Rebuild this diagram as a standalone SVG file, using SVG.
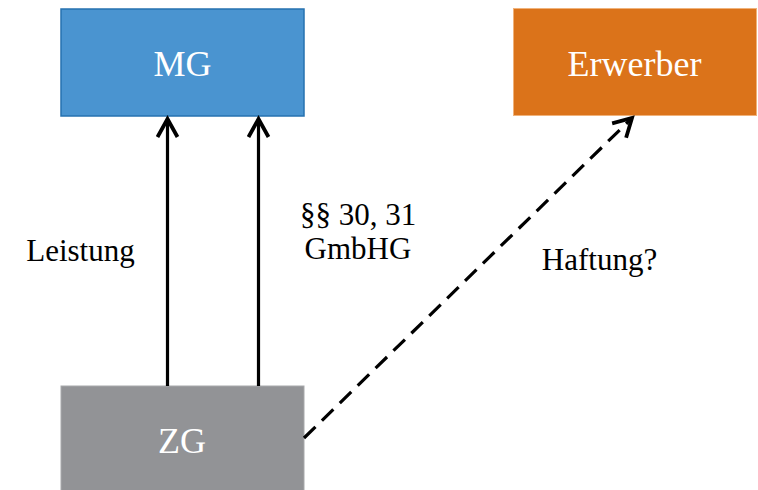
<svg xmlns="http://www.w3.org/2000/svg" width="758" height="490" viewBox="0 0 758 490">
<style>
.box-label{font-family:"Liberation Serif","Times New Roman",serif;font-size:36px;fill:#ffffff;text-anchor:middle}
.label{font-family:"Liberation Serif","Times New Roman",serif;font-size:31px;fill:#000000;text-anchor:middle}
.conn{stroke:#000;stroke-width:3.2;fill:none}
.dash{stroke-dasharray:16 9}
</style>
<defs>
<marker id="arrow" viewBox="-22 -12 26 24" refX="0" refY="0" markerWidth="26" markerHeight="24" markerUnits="userSpaceOnUse" orient="auto">
<path d="M-18,-10 L0,0 L-18,10" fill="none" stroke="#000" stroke-width="3.8"/>
</marker>
</defs>
<rect width="758" height="490" fill="#ffffff"/>
<g id="node-MG">
<rect x="61" y="9" width="243" height="107" fill="#4a94d0" stroke="#2672b0" stroke-width="1.5"/>
<text class="box-label" x="182.5" y="76">MG</text>
</g>
<g id="node-Erwerber">
<rect x="513.5" y="8.5" width="243" height="107" fill="#db731a" stroke="#f0b27a" stroke-width="1"/>
<text class="box-label" x="634.5" y="76">Erwerber</text>
</g>
<g id="node-ZG">
<rect x="61" y="386" width="243" height="110" fill="#929396" stroke="#a8a9ab" stroke-width="1"/>
<text class="box-label" x="182" y="453">ZG</text>
</g>
<g id="connectors">
<line class="conn" x1="167.5" y1="386" x2="167.5" y2="119" marker-end="url(#arrow)"/>
<line class="conn" x1="258.5" y1="386" x2="258.5" y2="119" marker-end="url(#arrow)"/>
<line class="conn dash" x1="304" y1="438" x2="632" y2="118" marker-end="url(#arrow)"/>
</g>
<g id="labels">
<text class="label" x="80.5" y="261">Leistung</text>
<text class="label" x="358" y="225">§§ 30, 31</text>
<text class="label" x="358" y="259">GmbHG</text>
<text class="label" x="599.5" y="270">Haftung?</text>
</g>
</svg>
